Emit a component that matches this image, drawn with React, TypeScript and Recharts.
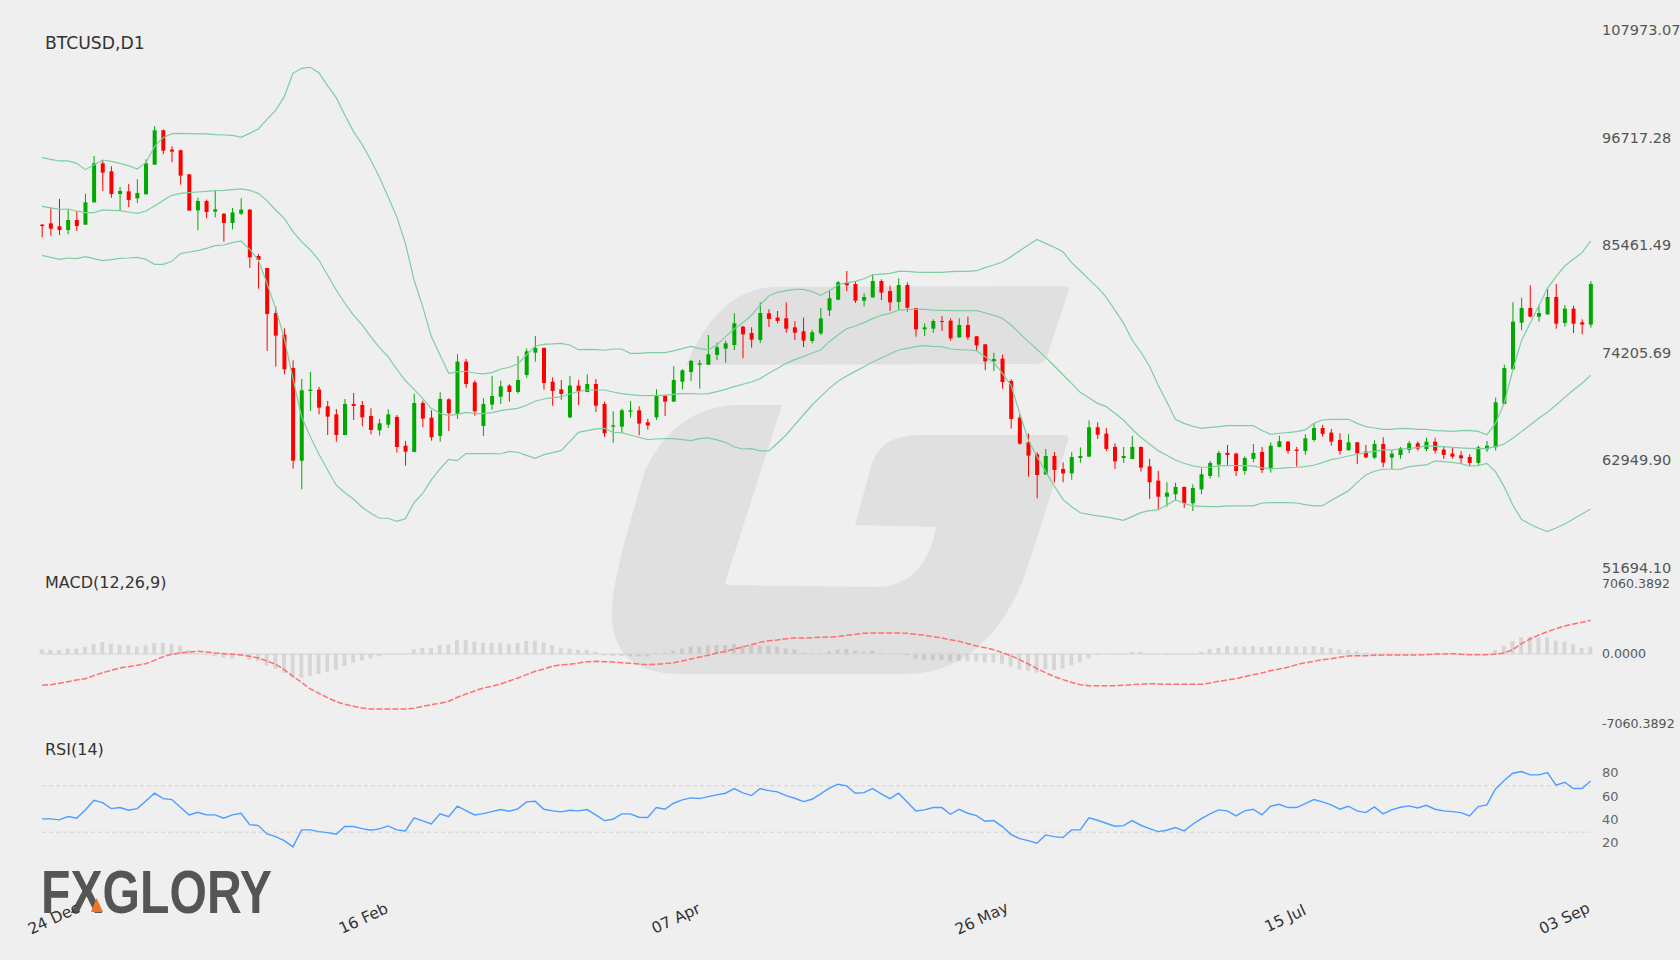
import { Bar, ComposedChart, Line, ReferenceLine, XAxis, YAxis } from "recharts";

// all prices below are in thousands of USD
const opens = [
  87.59,87.73,87.42,87.03,88.08,87.59,89.93,94.01,93.18,90.80,91.08,90.35,90.77,93.87,97.47,95.45,95.38,92.86,89.09,90.07,88.95,88.74,87.77,88.74,89.16,84.31,83.06,78.34,76.08,72.59,62.88,70.18,70.32,68.57,67.73,65.57,68.82,68.71,67.56,66.06,66.65,67.46,64.45,63.79,68.92,
  67.38,65.47,69.30,67.80,73.25,71.08,66.51,68.75,69.58,70.74,70.07,71.85,74.19,74.68,71.15,70.35,67.42,70.74,70.07,70.91,68.82,66.44,66.44,68.01,68.15,66.90,67.42,69.72,69.06,71.15,72.17,72.93,72.93,73.95,74.61,74.99,76.91,76.25,75.52,78.31,77.86,77.79,76.84,76.42,75.41,
  76.21,78.62,79.74,81.55,81.38,79.63,79.98,81.69,80.64,79.49,81.27,78.86,76.63,76.70,77.50,77.54,75.79,77.08,75.90,75.06,73.28,73.56,71.22,67.38,64.80,63.54,61.45,63.37,62.01,61.55,63.16,63.30,66.37,
  65.71,64.32,63.16,63.06,64.32,62.29,60.79,59.11,59.36,60.13,58.42,59.88,61.28,62.47,63.69,63.62,61.80,63.06,63.79,61.98,64.32,64.87,64.04,63.90,65.05,66.30,65.82,65.05,63.97,64.80,63.83,63.20,64.63,63.20,
  63.48,64.00,64.70,64.10,64.87,64.03,63.62,63.44,63.27,62.64,64.07,64.28,68.82,72.45,77.33,78.87,77.96,78.20,80.02,77.30,78.80,77.37,77.13,
];
const highs = [
  87.66,89.41,90.28,89.23,88.99,90.84,94.78,94.36,93.70,91.54,91.85,92.34,94.43,97.92,97.57,95.79,95.45,92.90,90.42,90.21,91.15,88.78,89.34,90.35,89.23,84.52,83.06,79.01,76.74,73.39,71.43,72.17,70.60,69.13,68.29,69.34,69.97,69.13,68.36,67.25,68.26,67.66,64.94,69.90,69.17,
  68.15,70.04,69.41,74.02,73.53,71.29,69.41,71.75,71.26,70.88,73.84,74.64,75.94,74.75,71.61,71.33,71.75,71.33,71.92,71.43,69.06,68.05,68.33,69.13,68.57,67.25,70.35,69.79,72.76,72.45,73.42,73.42,76.04,75.24,75.45,78.31,76.98,76.84,79.46,78.73,78.55,79.46,77.47,77.86,76.56,
  78.86,80.71,81.69,82.74,81.62,80.40,82.39,81.86,81.20,81.97,81.55,78.86,77.26,77.68,78.03,77.78,77.78,77.96,75.93,75.09,74.19,73.98,71.43,67.73,65.74,63.75,64.10,63.79,62.70,63.79,64.27,67.10,66.89,
  66.30,64.70,64.32,65.47,64.35,63.06,61.80,60.62,60.58,60.16,60.41,62.08,62.85,63.90,64.53,63.72,63.34,64.63,64.32,64.80,65.50,64.94,64.32,65.64,66.76,66.62,66.20,65.75,65.64,64.84,64.52,65.01,65.33,63.97,
  64.31,64.94,64.91,65.29,65.29,64.35,64.28,63.86,63.55,64.45,64.94,69.48,72.93,79.46,79.95,81.24,79.15,80.93,81.38,79.18,79.11,77.68,81.69,
];
const lows = [
  86.27,86.44,86.51,86.58,86.93,87.59,89.90,91.12,90.42,89.09,89.44,89.86,90.77,93.87,94.96,94.12,91.78,89.06,87.00,88.26,88.36,85.81,87.10,88.60,83.06,80.89,74.37,72.73,71.92,62.05,59.88,68.08,67.73,65.57,64.87,65.54,67.14,66.48,65.64,65.50,66.30,63.72,62.36,63.76,66.41,
  64.98,64.87,65.99,67.25,70.53,67.59,65.47,68.22,68.82,69.06,69.90,71.57,73.25,70.32,68.64,69.27,67.32,68.71,70.04,67.98,65.36,64.77,65.78,67.39,65.54,66.13,67.14,67.56,69.06,70.35,71.22,70.42,72.90,73.42,73.14,74.47,73.60,74.71,75.20,76.88,77.26,76.28,75.52,74.78,75.17,
  76.04,78.03,79.67,80.64,79.39,79.04,79.95,79.70,78.55,78.65,78.48,75.86,75.93,76.28,76.46,75.44,75.76,75.51,74.36,72.34,72.27,70.42,66.23,64.55,61.20,58.94,61.38,60.61,60.61,60.89,62.67,63.26,65.15,
  63.90,62.01,62.64,63.02,61.73,58.87,57.82,58.07,58.70,57.93,57.61,59.36,61.00,61.14,62.43,61.28,61.42,62.71,61.59,61.63,64.28,63.62,62.26,63.51,64.87,65.40,64.45,63.51,63.93,62.54,63.13,63.06,62.19,62.01,
  63.09,63.65,63.93,63.89,63.61,63.06,63.09,62.57,62.29,62.43,63.79,63.93,68.78,72.41,76.53,77.89,77.44,78.17,76.70,76.91,76.25,76.11,76.81,
];
const closes = [
  87.45,87.17,87.03,88.08,87.45,89.93,94.01,93.04,90.80,91.12,90.18,90.91,94.01,97.47,95.34,95.24,92.72,89.06,90.07,88.92,89.20,87.77,88.88,89.16,84.17,83.89,78.24,75.97,72.45,62.88,70.25,70.32,68.43,67.49,65.57,68.82,68.61,67.42,66.09,66.79,67.73,64.31,63.83,68.92,67.28,
  65.33,69.34,67.84,73.25,70.91,68.05,68.82,69.65,70.67,70.07,71.33,74.33,74.68,71.01,70.18,69.86,70.74,70.11,70.91,68.64,65.74,66.58,68.15,68.15,66.76,66.58,69.72,69.06,71.33,72.34,73.32,73.07,74.02,74.75,75.17,77.26,76.11,75.55,78.34,77.72,77.51,76.70,76.28,75.45,76.32,
  77.78,79.88,81.55,81.24,79.63,80.02,81.69,80.47,79.46,81.27,78.90,76.63,76.84,77.50,77.40,75.69,77.08,75.79,74.95,73.28,73.52,71.11,67.24,64.66,63.40,61.38,63.37,61.90,61.55,63.26,63.37,66.37,65.60,
  64.11,62.81,63.37,64.32,62.15,60.62,59.11,59.53,60.13,58.42,60.02,61.45,62.64,63.69,63.48,61.80,63.16,63.69,61.91,64.45,64.91,63.90,63.90,65.22,66.30,65.68,64.87,63.90,64.80,63.65,63.23,64.63,62.67,63.62,
  64.17,64.70,64.14,64.87,63.93,63.48,63.30,63.13,62.64,64.28,64.45,68.99,72.58,77.44,78.87,77.96,78.34,80.02,77.23,78.80,77.23,77.13,81.38,
];
const upperBand = [
  94.61,94.43,94.26,94.26,94.01,93.35,93.84,94.36,94.22,94.01,93.77,93.42,94.08,95.76,96.70,97.12,97.15,97.12,97.09,97.09,97.02,96.98,96.95,96.74,97.15,97.61,98.62,99.56,100.99,103.44,103.96,104.07,103.51,102.15,100.89,99.07,97.33,96.00,94.36,92.55,90.52,88.43,85.64,81.80,79.01,75.87,
  73.95,72.03,72.17,72.24,72.06,71.96,72.10,72.45,72.66,73.00,73.95,74.89,75.06,75.10,75.17,74.99,74.50,74.54,74.50,74.44,74.57,74.57,74.12,74.12,74.19,74.19,74.19,74.37,74.61,74.85,74.61,74.50,74.99,75.87,76.67,77.33,78.10,79.18,80.12,80.51,80.68,80.82,80.82,80.58,80.19,
  80.68,81.27,81.52,81.66,81.93,82.35,82.42,82.49,82.70,82.70,82.63,82.60,82.60,82.60,82.67,82.70,82.70,82.77,83.09,83.37,83.68,84.24,84.87,85.46,86.05,85.63,85.22,84.76,83.61,82.77,81.86,81.03,
  80.01,78.65,77.29,75.51,74.26,72.79,70.81,69.06,67.21,66.79,66.48,66.27,66.37,66.44,66.55,66.55,66.55,66.55,66.03,65.64,65.75,65.82,65.92,66.10,66.79,67.14,67.21,67.21,67.21,66.79,66.44,66.30,66.16,66.16,66.27,
  66.23,66.16,66.16,66.02,65.99,65.95,66.02,66.06,65.95,65.60,66.79,68.89,72.37,75.45,77.26,79.08,80.93,82.15,83.26,83.96,84.66,85.88,
];
const midBand = [
  89.51,89.34,89.20,89.23,89.02,88.85,88.85,89.13,89.09,89.06,88.92,88.78,89.02,89.55,90.11,90.66,90.87,90.94,91.01,91.08,91.15,91.19,91.26,91.33,91.19,90.87,90.11,89.13,88.26,86.86,85.81,84.94,83.89,82.32,80.75,79.36,78.13,77.09,75.87,74.71,73.77,72.45,71.26,70.35,69.41,
  68.33,67.84,67.59,67.73,67.94,67.84,67.80,67.91,68.12,68.26,68.36,68.68,69.10,69.34,69.48,69.55,69.86,70.14,70.28,70.28,70.28,70.07,69.90,69.79,69.72,69.69,69.72,69.72,69.83,69.90,69.90,69.86,69.90,70.11,70.35,70.63,70.88,71.12,71.47,72.03,72.52,73.07,73.46,73.77,74.16,74.47,
  75.34,76.04,76.70,76.98,77.33,77.75,78.10,78.31,78.65,78.69,78.72,78.72,78.65,78.62,78.59,78.59,78.59,78.59,78.37,78.10,77.78,77.08,76.21,75.34,74.54,73.70,72.79,71.88,70.98,70.03,69.47,68.88,
  68.54,67.84,67.14,66.17,65.33,64.63,63.93,63.44,62.95,62.61,62.33,62.19,62.19,62.33,62.36,62.36,62.36,62.33,62.12,62.05,62.08,62.15,62.19,62.26,62.40,62.68,62.99,63.16,63.37,63.55,63.72,63.86,64.00,64.00,64.10,
  64.14,64.28,64.42,64.38,64.35,64.28,64.21,64.17,64.14,64.17,64.35,64.63,65.22,65.92,66.62,67.31,67.94,68.71,69.51,70.28,70.98,71.82,
];
const lowerBand = [
  84.38,84.17,83.96,84.10,84.03,84.24,84.03,83.82,83.93,84.07,84.10,84.17,83.96,83.44,83.44,83.75,84.56,84.73,84.87,85.11,85.39,85.46,85.71,85.88,85.01,83.89,
  81.45,78.83,75.69,71.50,67.49,65.40,63.58,61.91,60.34,59.53,58.87,58.00,57.37,56.85,56.85,56.53,56.81,58.49,59.46,60.86,
  62.01,63.02,62.88,63.62,63.62,63.62,63.62,63.58,63.86,63.76,63.44,63.13,63.51,63.72,63.93,64.87,65.85,66.02,66.20,66.27,65.85,65.81,65.57,65.33,65.08,65.15,65.19,65.19,65.08,64.98,65.19,65.26,65.05,64.80,64.31,64.10,64.14,63.90,63.90,64.70,65.57,66.62,67.66,68.71,69.58,
  70.45,71.19,71.74,72.23,72.72,73.21,73.63,74.05,74.47,74.64,74.82,74.92,74.85,74.82,74.57,74.50,74.47,74.40,73.77,73.18,72.02,70.80,67.84,65.04,63.30,61.73,60.23,58.83,58.06,57.43,57.26,57.09,
  56.99,56.81,56.64,57.02,57.44,57.65,57.72,58.24,58.77,58.42,58.14,58.10,58.07,58.07,58.14,58.14,58.14,58.14,58.45,58.49,58.49,58.49,58.45,58.28,58.14,58.17,58.70,59.22,59.74,60.58,61.38,61.77,61.98,61.98,61.98,
  62.25,62.36,62.43,62.85,62.78,62.71,62.57,62.32,62.36,62.60,61.73,60.16,58.24,56.74,56.22,55.80,55.45,55.83,56.25,56.77,57.30,57.82,
];
const macdLine = [
  -3158,-3091,-2957,-2789,-2621,-2486,-2184,-1882,-1646,-1411,-1277,-1142,-974,-638,-269,-34,101,202,269,202,101,34,-34,-101,-235,-403,-706,-1042,-1579,-2251,-2856,-3528,-3965,-4402,-4805,-5074,-5275,-5443,-5544,-5544,-5544,-5544,-5544,-5477,-5275,-5107,-4973,-4771,-4368,-4032,-3730,-3427,-3259,-3024,-2722,-2419,-2083,-1747,-1512,-1243,-1075,-1042,-907,-773,
  -739,-773,-806,-874,-941,-1008,-1075,-1042,-974,-874,-706,-504,-302,-134,101,269,504,706,941,1176,1344,1411,1546,1613,1613,1646,1680,1714,1747,1882,1982,2083,2117,2117,2117,2117,2083,1982,1882,1747,1613,1445,1277,1042,806,638,437,134,-168,-571,-1008,-1478,-1882,-2285,-2587,-2856,-3091,-3192,-3192,-3192,-3192,-3158,-3091,
  -3058,-2990,-3024,-3058,-3058,-3058,-3058,-3058,-2923,-2755,-2621,-2486,-2285,-2083,-1915,-1680,-1512,-1344,-1075,-874,-739,-571,-470,-336,-202,-168,-168,-134,-101,-101,-101,-101,-101,-67,0,0,34,-34,-67,-67,-67,0,101,437,1042,1512,1915,2251,2554,2822,3024,3192,3394,
];
const macdHist = [
  470,437,437,538,538,706,1042,1210,1042,941,874,739,874,1109,1109,1042,840,403,101,-101,-235,-370,-470,-202,-605,-706,-1176,-1512,-1915,-2352,-2386,-2184,-2016,-1781,-1579,-1210,-874,-672,-437,-235,67,67,34,504,638,638,907,974,1378,1445,1243,1142,1142,1142,1042,1142,1310,1344,1142,907,638,538,437,437,
  235,-134,-202,-202,-202,-235,-235,101,168,336,571,739,739,840,907,907,974,874,840,840,840,739,571,437,134,101,101,269,437,504,336,235,336,134,101,101,-134,-470,-571,-638,-638,-739,-739,-739,-739,-874,-874,-974,-1277,-1579,-1680,-1882,-1579,-1613,-1478,-1142,-840,-470,-101,0,67,34,235,
  235,101,34,-101,-34,34,101,235,504,638,806,739,739,806,706,806,806,806,739,739,806,706,638,470,403,302,134,101,34,34,34,34,0,67,34,34,34,0,0,34,34,403,806,1277,1680,1747,1680,1680,1344,1243,974,638,739,
];
const rsiValues = [
  41.46,41.46,40.6,43.47,42.03,49.22,57.55,55.54,50.37,51.23,48.93,50.37,56.98,63.59,58.99,58.13,51.52,44.9,47.2,44.9,44.9,42.03,44.9,46.34,36.57,35.71,28.52,26.22,22.78,17.31,31.97,31.97,30.53,29.67,28.24,34.85,34.85,33.12,31.69,32.84,35.42,31.97,31.11,42.32,39.73,37.15,45.77,43.47,52.38,48.64,44.9,46.05,47.78,49.5,48.07,50.08,56.11,56.69,49.79,48.35,47.49,48.93,48.35,49.5,
  44.91,40.02,41.17,45.77,45.77,42.9,42.61,51.23,49.79,54.97,57.84,59.56,58.99,60.71,62.15,63.59,67.61,63.88,61.58,67.61,65.89,64.74,61.58,59.28,56.4,58.42,63.01,67.9,71.35,69.91,63.59,64.16,67.61,63.01,58.99,63.59,56.12,48.36,49.22,51.23,51.23,45.48,49.79,46.34,44.33,39.45,40.02,34.85,27.95,24.5,22.78,20.48,27.66,26.23,25.36,31.97,31.97,42.32,40.31,37.72,35.14,35.71,40.02,
  36,33.12,30.54,31.69,33.99,31.11,36.86,41.75,45.77,49.22,48.36,44.05,48.36,49.79,44.91,52.38,54.1,51.23,51.23,54.68,58.13,56.12,53.53,49.79,52.38,48.36,46.92,51.81,45.77,49.22,51.52,52.67,50.94,53.24,49.79,48.36,47.78,46.92,44.05,52.09,53.53,67.32,74.51,80.83,82.27,79.4,79.4,81.41,70.48,73.07,67.61,67.61,74.22,
];

const priceTicks = [107973.07, 96717.28, 85461.49, 74205.69, 62949.9, 51694.1];
const macdTicks = [7060.3892, 0, -7060.3892];
const rsiTicks = [80, 60, 40, 20];
const rsiLevels = [70, 30];
const dateTickIndex = [0, 38, 74, 109, 145, 179];
const dateTickLabels = ["24 Dec", "16 Feb", "07 Apr", "26 May", "15 Jul", "03 Sep"];

const rows = opens.map((open, i) => ({
  i,
  open: open * 1000,
  high: highs[i] * 1000,
  low: lows[i] * 1000,
  close: closes[i] * 1000,
  upper: upperBand[i] * 1000,
  mid: midBand[i] * 1000,
  lower: lowerBand[i] * 1000,
  macd: macdLine[i],
  hist: macdHist[i],
  rsi: rsiValues[i],
}));

const font = "'DejaVu Sans', sans-serif";
const bandColor = "#7fcda2";
const labelShift = [12, -7, -6, -3, -11, -26];

function Candle(props: any) {
  const { x, y, width, height, payload } = props;
  const perUnit = height / (payload.high - payload.low);
  const up = payload.close >= payload.open;
  const color = up ? "#00a800" : "#ff0000";
  const top = y + (payload.high - Math.max(payload.open, payload.close)) * perUnit;
  const bodyH = Math.max(Math.abs(payload.open - payload.close) * perUnit, 1);
  const cx = x + width / 2;
  return (
    <g>
      <line x1={cx} x2={cx} y1={y} y2={y + height} stroke={color} strokeWidth={1} />
      <rect x={cx - 2} y={top} width={4} height={bodyH} fill={color} />
    </g>
  );
}

function DateTick(props: any) {
  const { x, y, payload, index } = props;
  const pos = dateTickIndex.indexOf(payload.value);
  const tx = x + labelShift[pos];
  const ty = y + 44;
  return (
    <text
      x={tx}
      y={ty}
      key={index}
      textAnchor="middle"
      dominantBaseline="middle"
      transform={`rotate(-25 ${tx} ${ty})`}
      fill="#333"
      fontSize={15.5}
      fontFamily={font}
    >
      {dateTickLabels[pos]}
    </text>
  );
}

const chartBase = { width: 1680, data: rows };
const title = (top: number, text: string, size = 16) => (
  <div style={{ position: "absolute", left: 45, top, fontFamily: font, fontSize: size, color: "#333", lineHeight: "20px" }}>{text}</div>
);

export default function App() {
  return (
    <div style={{ position: "absolute", left: 0, top: 0, width: 1680, height: 960, overflow: "hidden", background: "#efefef" }}>
      <svg width={1680} height={960} style={{ position: "absolute", left: 0, top: 0 }}>
        <path d="M686 365 C705 322 730 290 772 287 L1064 286 Q1070 286 1068 292 L1047 357 Q1044 364 1036 364 Z" fill="#e0e0e0" />
        <path
          d="M782 405 L725 583 Q726 585 730 585 L878 587 Q925 585 936 527 L855 525 L872 463 Q882 437 913 435 L1064 435 Q1070 435 1068 441 L1030 560 Q1005 640 950 665 Q930 674 905 674 L680 674 Q610 674 612 610 Q612 590 625 540 L645 470 Q675 408 735 405 Z"
          fill="#e0e0e0"
        />
      </svg>
      <svg width={1680} height={960} style={{ position: "absolute", left: 0, top: 0 }}>
        <text x={41} y={913} fontFamily="'Liberation Sans', sans-serif" fontWeight={700} fontSize={61} fill="#555" textLength={231} lengthAdjust="spacingAndGlyphs">
          FXGLORY
        </text>
        <polygon points="91,912 103,912 96.5,898" fill="#e8752a" />
      </svg>

      {title(33, "BTCUSD,D1", 17.2)}
      {title(572.5, "MACD(12,26,9)")}
      {title(740, "RSI(14)")}

      <div style={{ position: "absolute", left: 0, top: 0 }}>
        <ComposedChart {...chartBase} height={600} margin={{ top: 30, right: 0, bottom: 32.5, left: 37.7 }} barCategoryGap={0}>
          <XAxis dataKey="i" hide scale="band" />
          <YAxis
            orientation="right"
            width={85}
            type="number"
            domain={[51694.1, 107973.07]}
            ticks={priceTicks}
            interval={0}
            axisLine={false}
            tickLine={false}
            tickSize={7}
            tickMargin={0}
            tickFormatter={(v: number) => v.toFixed(2)}
            tick={{ fill: "#555", fontSize: 14.5, fontFamily: font }}
          />
          <Line dataKey="upper" stroke={bandColor} strokeWidth={1.2} dot={false} isAnimationActive={false} />
          <Line dataKey="mid" stroke={bandColor} strokeWidth={1.2} dot={false} isAnimationActive={false} />
          <Line dataKey="lower" stroke={bandColor} strokeWidth={1.2} dot={false} isAnimationActive={false} />
          <Bar dataKey={(d: any) => [d.low, d.high]} shape={<Candle />} isAnimationActive={false} />
        </ComposedChart>
      </div>

      <div style={{ position: "absolute", left: 0, top: 560 }}>
        <ComposedChart {...chartBase} height={190} margin={{ top: 24, right: 0, bottom: 26, left: 37.7 }} barSize={4}>
          <XAxis dataKey="i" hide scale="band" />
          <YAxis
            orientation="right"
            width={85}
            type="number"
            domain={[-7060.3892, 7060.3892]}
            ticks={macdTicks}
            interval={0}
            axisLine={false}
            tickLine={false}
            tickSize={7}
            tickMargin={0}
            tickFormatter={(v: number) => v.toFixed(4)}
            tick={{ fill: "#555", fontSize: 12.6, fontFamily: font }}
          />
          <Bar dataKey="hist" fill="rgba(0,0,0,0.1)" isAnimationActive={false} />
          <ReferenceLine segment={[{ x: 0, y: 0 }, { x: 179, y: 0 }]} stroke="#d4d4d4" />
          <Line dataKey="macd" stroke="#ff7070" strokeWidth={1.5} strokeDasharray="6 2" dot={false} isAnimationActive={false} />
        </ComposedChart>
      </div>

      <div style={{ position: "absolute", left: 0, top: 720 }}>
        <ComposedChart {...chartBase} height={240} margin={{ top: 31, right: 0, bottom: 0, left: 37.7 }}>
          <XAxis
            dataKey="i"
            scale="band"
            height={93}
            ticks={dateTickIndex}
            interval={0}
            axisLine={false}
            tickLine={false}
            tick={<DateTick />}
          />
          <YAxis
            orientation="right"
            width={85}
            type="number"
            domain={[0, 100]}
            ticks={rsiTicks}
            interval={0}
            axisLine={false}
            tickLine={false}
            tickSize={7}
            tickMargin={0}
            tick={{ fill: "#666", fontSize: 13, fontFamily: font, dy: -1.5 }}
          />
          {rsiLevels.map((level) => (
            <ReferenceLine key={level} segment={[{ x: 0, y: level }, { x: 179, y: level }]} stroke="#d2d2d2" strokeDasharray="4 3" />
          ))}
          <Line dataKey="rsi" stroke="#4d9eff" strokeWidth={1.4} dot={false} isAnimationActive={false} />
        </ComposedChart>
      </div>
    </div>
  );
}
